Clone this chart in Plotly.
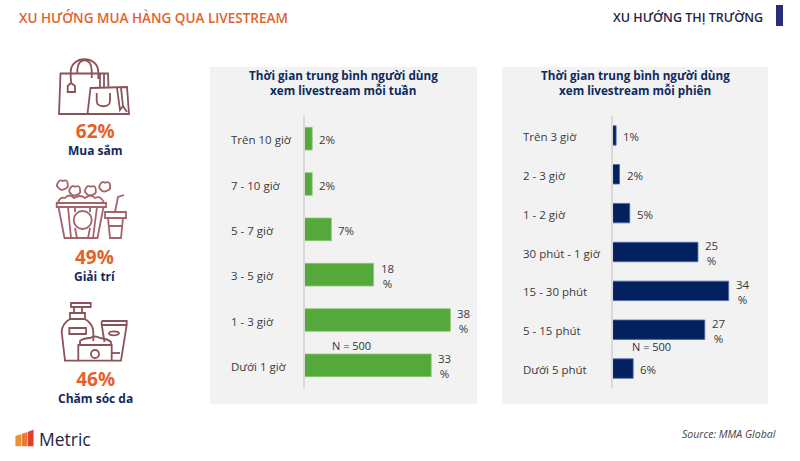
import re
import plotly.graph_objects as go

W, H = 800, 461

# ---- data ----
week_categories = ["Trên 10 giờ", "7 - 10 giờ", "5 - 7 giờ", "3 - 5 giờ", "1 - 3 giờ", "Dưới 1 giờ"]
week_values = [2, 2, 7, 18, 38, 33]
session_categories = ["Trên 3 giờ", "2 - 3 giờ", "1 - 2 giờ", "30 phút - 1 giờ", "15 - 30 phút", "5 - 15 phút", "Dưới 5 phút"]
session_values = [1, 2, 5, 25, 34, 27, 6]
stat_percent = ["62%", "49%", "46%"]
stat_labels = ["Mua sắm", "Giải trí", "Chăm sóc da"]

FONT = "Open Sans"
GREEN, NAVY = "#55a83a", "#03215f"
ORANGE = "#e3622c"
DARK = "#0f2a5e"
TEXT = "#3a3a3a"
PANEL = "#f2f2f2"
ICON = "#8a5359"
ICON2 = "#a5636b"


def px(x):
    return x / W


def py(y):
    return 1 - y / H


def conv(d):
    toks = re.findall(r"[MLQCZ]|-?\d+\.?\d*", d)
    out, i = [], 0
    for t in toks:
        if t in "MLQCZ":
            out.append(t)
        else:
            out.append(f"{(px(float(t)) if i % 2 == 0 else py(float(t))):.5f}")
            i += 1
    return " ".join(out)


shapes = []


def path(d, color=ICON, width=1.8, fill=None):
    s = dict(type="path", xref="paper", yref="paper", path=conv(d), line=dict(color=color, width=width), layer="above")
    if fill:
        s["fillcolor"] = fill
    shapes.append(s)


def rect(x0, y0, x1, y1, fill, layer="below"):
    shapes.append(dict(type="rect", xref="paper", yref="paper", x0=px(x0), x1=px(x1), y0=py(y0), y1=py(y1),
                       fillcolor=fill, line=dict(width=0), layer=layer))


def circle(cx, cy, rx, ry=None, color=ICON, width=1.8):
    ry = ry or rx
    shapes.append(dict(type="circle", xref="paper", yref="paper", x0=px(cx - rx), x1=px(cx + rx),
                       y0=py(cy + ry), y1=py(cy - ry), line=dict(color=color, width=width), layer="above"))


# panels
rect(210, 67, 477, 404, PANEL)
rect(502, 67, 768, 404, PANEL)
rect(776, 5, 783, 26, "#2b2d77")

# shopping bags
path("M 88 114 L 59 114 L 60.5 73.5 L 108 73.5 L 108.5 88")
path("M 70.7 79 L 70.7 72 C 70.7 55 98.3 55 98.3 72 L 98.3 79")
path("M 77.3 73 L 77.3 70 C 77.3 57 91.7 57 91.7 70 L 91.7 78")
path("M 71 79 L 71 83 M 67.7 86 L 71 83 L 75 86 L 75 92 L 67.7 92 Z")
path("M 100 73.5 L 100 88 M 104 73.5 L 104 88")
path("M 90.5 88 L 127 87 L 129 114 L 87.5 114 Z")
path("M 96.7 93 L 96.7 101 C 96.7 108 110 108 110 101 L 110 93")
path("M 117 88 L 120 110 L 123 106 L 127 112 M 121 88 L 123 106")
# popcorn
for cx, cy in [(62.7, 185), (75, 190.7), (90.7, 190.7), (105, 186.7)]:
    path(f"M {cx-5} {cy-2} Q {cx-3} {cy-6} {cx} {cy-4} Q {cx+5} {cy-6} {cx+5} {cy-1} "
         f"Q {cx+6} {cy+3} {cx+2} {cy+4} Q {cx-2} {cy+6} {cx-4} {cy+3} Q {cx-7} {cy+1} {cx-5} {cy-2} Z", ICON2)
path("M 58 203 Q 60 196 65 198 Q 69 193 74 198 Q 80 194 85 198 Q 91 193 95 198 Q 101 195 104 203", ICON2)
path("M 56.7 203 L 106 203 L 106 207 L 56.7 207 Z", ICON2)
path("M 58.5 207 L 64.5 238 L 97.5 238 L 103.5 207", ICON2)
circle(82.7, 220, 9, color=ICON2)
path("M 68 207 L 71 238 M 75 207 L 75 212 M 75 228 L 77 238 M 90 207 L 90 212 M 90 228 L 88 238 M 97 207 L 93 238", ICON2)
path("M 105 212 L 126 212 L 126 218 L 105 218 Z", ICON2)
path("M 108 218 L 110 238 L 121 238 L 123 218 M 108.5 226 L 122.5 226", ICON2)
path("M 115 212 L 118 197 L 124 195", ICON2)
# skincare
path("M 71 303 L 90.7 303 L 90.7 307 L 71 307 Z")
path("M 74 307 L 74 313 M 82 307 L 82 313 M 70 313 L 85 313 L 85 319 L 70 319 Z")
path("M 70 319 Q 61.7 324 61.7 332 L 65 360.7 L 78.3 360.7 M 85 319 Q 93.3 324 93.3 332 L 93.3 341")
path("M 69.3 328 L 86 328 L 86 334 L 69.3 334 Z")
path("M 101.7 321 L 126.7 321 L 126.7 325 L 121 360.7 L 111.7 360.7 M 101.7 321 L 101.7 325 L 104.5 342 M 101.7 325 L 126.7 325")
circle(114, 333.3, 5, 2)
path("M 78.3 345 L 111.7 345 L 111.7 360.7 L 78.3 360.7 Z")
path("M 80 345 L 80 341 Q 84 338 90 338 Q 95 335 100 338 Q 108 339 111 342 L 111 345")
circle(95, 354, 4)
path("M 111.7 353 L 120 353")
# logo
path("M 15.7 446 L 15.7 436 L 21 434.5 L 21 446 Z", "#e8923a", 0.5, "#e8923a")
path("M 22 446 L 22 434 L 27 432.5 L 27 446 Z", "#ec7a35", 0.5, "#ec7a35")
path("M 28 446 L 28 432 L 33.3 430 L 33.3 446 Z", "#e2402f", 0.5, "#e2402f")

annotations = []


def text(x, y, s, size, color=TEXT, anchor="center", weight=400, style="normal"):
    annotations.append(dict(xref="paper", yref="paper", x=px(x), y=py(y), text=s, showarrow=False,
                            xanchor=anchor, yanchor="middle",
                            font=dict(family=FONT, size=size, color=color, weight=weight, style=style)))


text(17, 18, "XU HƯỚNG MUA HÀNG QUA LIVESTREAM", 13.5, ORANGE, "left", 600)
text(765, 18, "XU HƯỚNG THỊ TRƯỜNG", 12.5, "#1f2547", "right", 600)
for yc, p, l in zip([138, 264, 386], stat_percent, stat_labels):
    text(95, yc,
         f'<span style="font-size:19px;fill:{ORANGE}">{p}</span><br>'
         f'<span style="font-size:12px;fill:{DARK}">{l}</span>',
         13.2, DARK, weight=700)
text(343, 75, "Thời gian trung bình người dùng", 11.7, DARK, weight=700)
text(343, 90, "xem livestream mỗi tuần", 11.7, DARK, weight=700)
text(635, 75, "Thời gian trung bình người dùng", 11.7, DARK, weight=700)
text(635, 90, "xem livestream mỗi phiên", 11.7, DARK, weight=700)
text(351.7, 345.5, "N = 500", 11, "#333333")
text(651, 346, "N = 500", 11, "#333333")
text(778, 434, "Source: MMA Global", 10.5, "#444444", "right", style="italic")
text(37, 438.5, "Metric", 17.5, "#1f2547", "left")

fig = go.Figure()
fig.add_bar(y=week_categories, x=week_values, orientation="h", xaxis="x", yaxis="y",
            marker=dict(color=GREEN, line=dict(color="#8ccb78", width=0.8)), width=0.5, hoverinfo="skip")
fig.add_bar(y=session_categories, x=session_values, orientation="h", xaxis="x2", yaxis="y2",
            marker=dict(color=NAVY, line=dict(color="#4a6aa8", width=0.8)), width=0.5, hoverinfo="skip")


def series_labels(cats, vals, xr, yr, label_x):
    for c, v in zip(cats, vals):
        annotations.append(dict(xref="paper", yref=yr, x=px(label_x), y=c, text=c, showarrow=False, xanchor="left",
                                yshift=-1, font=dict(family=FONT, size=11.5, color=TEXT, weight=500)))
        s = f"{v}%" if v < 10 else f"{v}<br>%"
        annotations.append(dict(xref=xr, yref=yr, x=v, y=c, text=s, showarrow=False, xanchor="left", xshift=5,
                                yshift=-1, align="center", font=dict(family=FONT, size=11.5, color=TEXT)))


series_labels(week_categories, week_values, "x", "y", 229)
series_labels(session_categories, session_values, "x2", "y2", 521)

AX_W = dict(showgrid=False, zeroline=False, showticklabels=False, ticks="", fixedrange=True)
AX_C = dict(showgrid=False, zeroline=False, showticklabels=False, ticks="", showline=True, linecolor="#d9d9d9",
            linewidth=1.5, autorange="reversed", type="category", fixedrange=True)
ydom = [py(388), py(116)]
fig.update_layout(
    width=W, height=H, autosize=False, margin=dict(l=0, r=0, t=0, b=0), paper_bgcolor="white",
    plot_bgcolor="rgba(0,0,0,0)", showlegend=False, barmode="overlay", font=dict(family=FONT),
    shapes=shapes, annotations=annotations,
    xaxis=dict(domain=[px(304.5), px(477)], range=[0, (477 - 304.5) / 3.84], anchor="y", **AX_W),
    yaxis=dict(domain=ydom, anchor="x", **AX_C),
    xaxis2=dict(domain=[px(612.7), px(768)], range=[0, (768 - 612.7) / 3.41], anchor="y2", **AX_W),
    yaxis2=dict(domain=ydom, anchor="x2", **AX_C),
)
fig.write_html("out.html", config=dict(displayModeBar=False),
               post_script="document.body.style.margin='0';document.documentElement.style.overflow='hidden';")
